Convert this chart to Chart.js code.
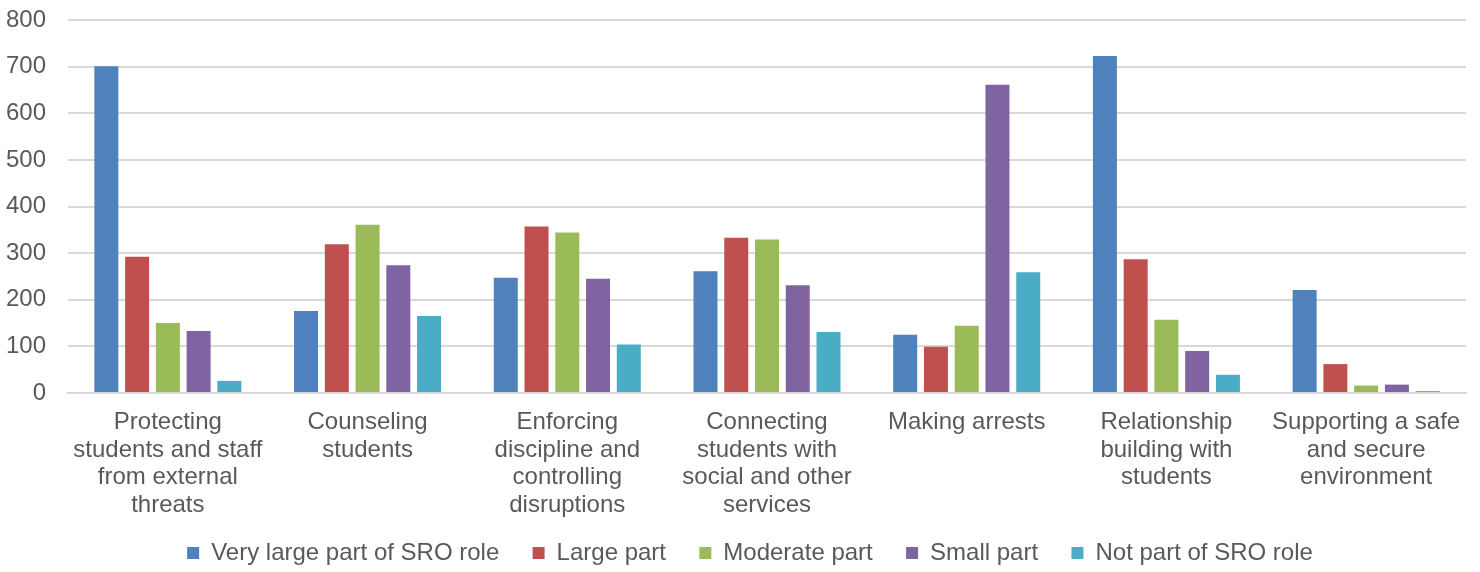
<!DOCTYPE html>
<html>
<head>
<meta charset="utf-8">
<script src="https://cdn.jsdelivr.net/npm/chart.js@4"></script>
<style>
  html, body { margin: 0; padding: 0; background: #fff; }
  #wrap { width: 1480px; height: 572px; position: relative; }
</style>
</head>
<body>
<div id="wrap"><canvas id="sroChart"></canvas></div>
<script>
// Categorías (líneas de la etiqueta del eje x)
const categorias = [
    ['Protecting', 'students and staff', 'from external', 'threats'],
    ['Counseling', 'students'],
    ['Enforcing', 'discipline and', 'controlling', 'disruptions'],
    ['Connecting', 'students with', 'social and other', 'services'],
    ['Making arrests'],
    ['Relationship', 'building with', 'students'],
    ['Supporting a safe', 'and secure', 'environment']
];

const seriesNombres = ['Very large part of SRO role', 'Large part', 'Moderate part', 'Small part', 'Not part of SRO role'];

const muyGrande = [701, 176, 247, 261, 125, 723, 221];
const grande    = [292, 319, 357, 333, 99, 287, 62];
const moderado  = [150, 361, 344, 329, 144, 157, 16];
const pequeno   = [133, 274, 245, 231, 661, 90, 18];
const ninguno   = [26, 165, 104, 131, 259, 39, 4];

const yTicks = [0, 100, 200, 300, 400, 500, 600, 700, 800];

const colores = ['#4F81BD', '#C0504D', '#9BBB59', '#8064A2', '#4BACC6'];
const valores = [muyGrande, grande, moderado, pequeno, ninguno];

const fuente = 'Liberation Sans, Arial, sans-serif';

// Leyenda: alto fijo y un poco corrida a la derecha
const legendFit = {
    id: 'legendFit',
    beforeInit(chart) {
        const fitOriginal = chart.legend.fit;
        chart.legend.fit = function () {
            fitOriginal.bind(chart.legend)();
            this.height = 51;
            this.lineWidths = this.lineWidths.map(w => w - 14);
        };
    }
};

const ctx = document.getElementById('sroChart').getContext('2d');
new Chart(ctx, {
    type: 'bar',
    data: {
        labels: categorias,
        datasets: seriesNombres.map((nombre, i) => ({
            label: nombre,
            data: valores[i],
            backgroundColor: colores[i],
            borderWidth: 0,
            categoryPercentage: 0.77,
            barPercentage: 0.78
        }))
    },
    options: {
        responsive: true,
        maintainAspectRatio: false,
        animation: false,
        layout: {
            padding: { top: 20, right: 0, left: 6, bottom: 0 }
        },
        plugins: {
            legend: {
                position: 'bottom',
                labels: {
                    boxWidth: 12,
                    boxHeight: 12,
                    padding: 20,
                    color: '#595959',
                    font: { family: fuente, size: 24 },
                    // espacios extra entre elementos de la leyenda
                    generateLabels: chart => {
                        const items = Chart.defaults.plugins.legend.labels.generateLabels(chart);
                        return items.map((it, i) => ({ ...it, text: i < items.length - 1 ? it.text + '  ' : it.text }));
                    }
                }
            },
            tooltip: { enabled: true }
        },
        scales: {
            x: {
                grid: { display: false, drawTicks: false },
                border: { color: '#D9D9D9', width: 2 },
                afterFit: axis => {
                    axis.height = 128;
                    axis.paddingLeft = 0;
                    axis.paddingRight = 14;
                },
                ticks: {
                    color: '#595959',
                    padding: 16,
                    maxRotation: 0,
                    autoSkip: false,
                    font: { family: fuente, size: 24, lineHeight: 1.146 }
                }
            },
            y: {
                min: 0,
                max: 800,
                afterBuildTicks: axis => { axis.ticks = yTicks.map(v => ({ value: v })); },
                afterFit: axis => {
                    axis.width = 62;
                    axis.paddingTop = 0;
                    axis.paddingBottom = 0;
                },
                grid: { color: '#D9D9D9', lineWidth: 2, drawTicks: false },
                border: { display: false },
                ticks: {
                    color: '#595959',
                    padding: 22,
                    font: { family: fuente, size: 24 }
                }
            }
        }
    },
    plugins: [legendFit]
});
</script>
</body>
</html>
